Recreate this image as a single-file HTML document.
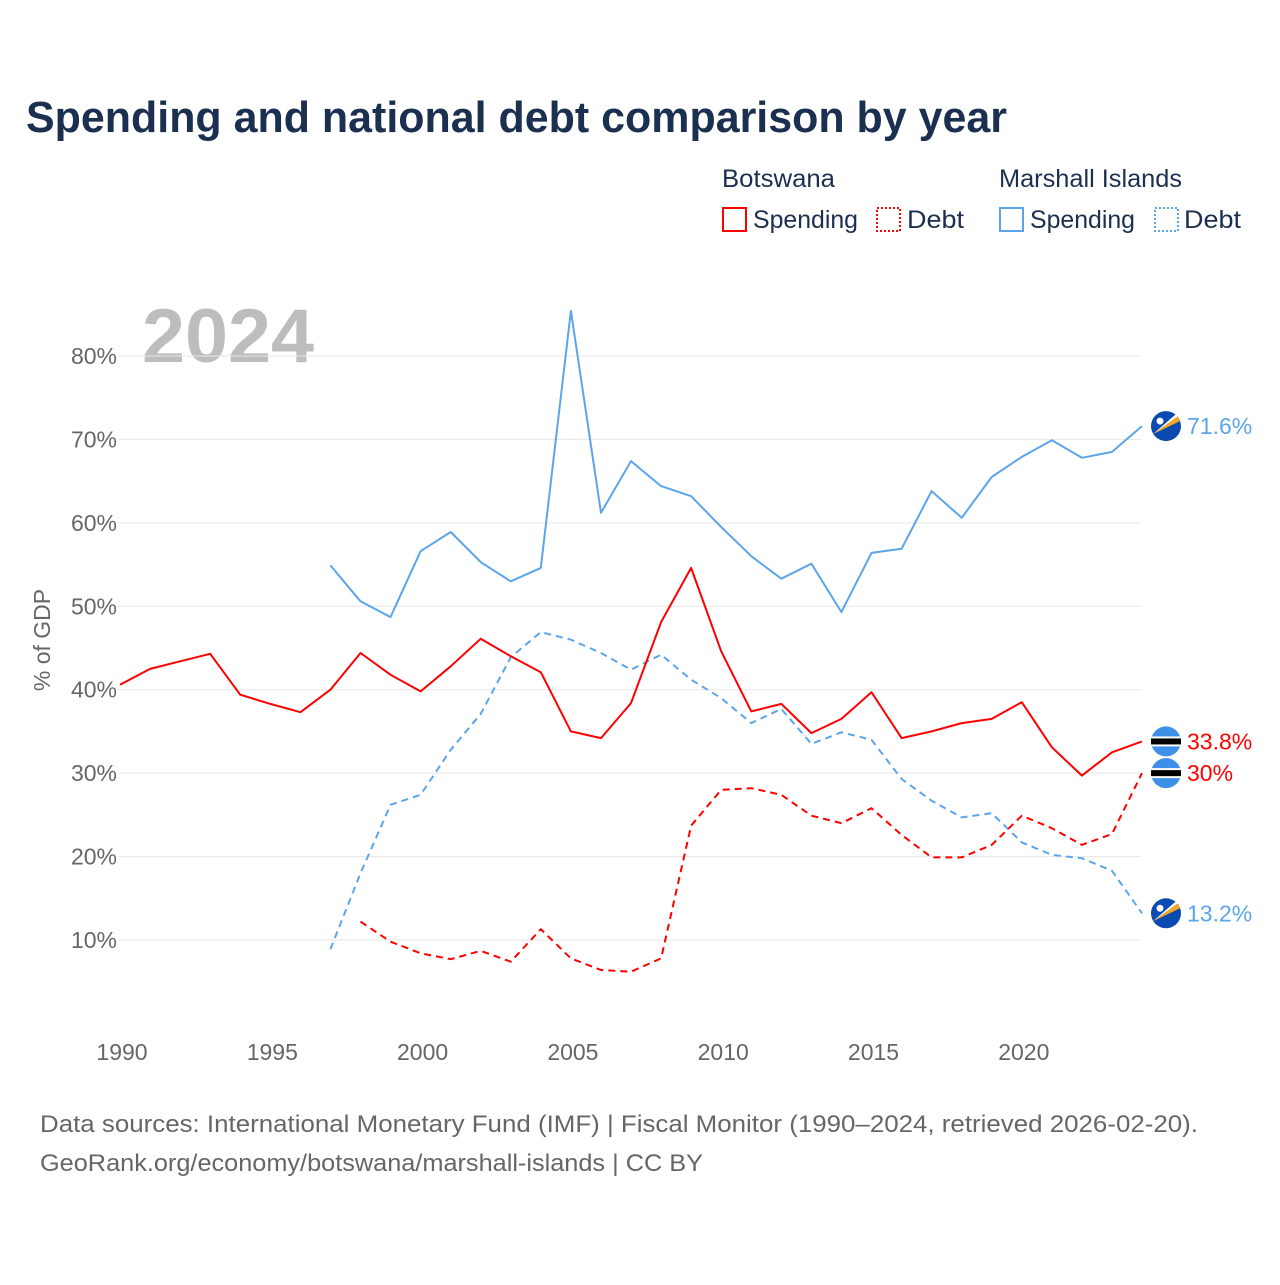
<!DOCTYPE html>
<html><head><meta charset="utf-8"><style>
html,body{margin:0;padding:0;background:#fff;}
svg text{font-family:"Liberation Sans",sans-serif;}
</style></head><body>
<svg id="chart" width="1280" height="1280" viewBox="0 0 1280 1280" xmlns="http://www.w3.org/2000/svg">
<text x="26" y="132" font-size="44" font-weight="bold" fill="#1b2f50" textLength="981" lengthAdjust="spacingAndGlyphs">Spending and national debt comparison by year</text>
<g font-size="25" fill="#1b2f50">
<text x="722" y="187" textLength="113" lengthAdjust="spacingAndGlyphs" fill="#1b2f50">Botswana</text>
<text x="999" y="187" textLength="183" lengthAdjust="spacingAndGlyphs" fill="#1b2f50">Marshall Islands</text>
<g><rect x="723" y="208" width="23" height="23" fill="none" stroke="#f00" stroke-width="2"/><text x="753" y="228" textLength="105" lengthAdjust="spacingAndGlyphs" fill="#1b2f50">Spending</text></g>
<g><rect x="877" y="208" width="23" height="23" fill="none" stroke="#f00" stroke-width="2" stroke-dasharray="2,2"/><text x="907" y="228" textLength="57" lengthAdjust="spacingAndGlyphs" fill="#1b2f50">Debt</text></g>
<g><rect x="1000" y="208" width="23" height="23" fill="none" stroke="#5ca5ea" stroke-width="2"/><text x="1030" y="228" textLength="105" lengthAdjust="spacingAndGlyphs" fill="#1b2f50">Spending</text></g>
<g><rect x="1155" y="208" width="23" height="23" fill="none" stroke="#5ca5ea" stroke-width="2" stroke-dasharray="2,2"/><text x="1184" y="228" textLength="57" lengthAdjust="spacingAndGlyphs" fill="#1b2f50">Debt</text></g>
</g>
<text x="142" y="362" font-size="76" font-weight="bold" fill="#bdbdbd" textLength="172" lengthAdjust="spacingAndGlyphs">2024</text>
<text transform="translate(50,640) rotate(-90)" text-anchor="middle" font-size="23" fill="#666">% of GDP</text>
<g id="grid"></g>
<g id="yticks"></g>
<g id="xticks"></g>
<g id="series"></g>
<g id="endlabels"></g>
<text x="40" y="1132" font-size="24" fill="#666" textLength="1158" lengthAdjust="spacingAndGlyphs">Data sources: International Monetary Fund (IMF) | Fiscal Monitor (1990–2024, retrieved 2026-02-20).</text>
<text x="40" y="1171" font-size="24" fill="#666" textLength="663" lengthAdjust="spacingAndGlyphs">GeoRank.org/economy/botswana/marshall-islands | CC BY</text>
</svg>
<script>
const yTicks=[10,20,30,40,50,60,70,80];
const xTicks=[1990,1995,2000,2005,2010,2015,2020];
const bwSpendStart=1990;
const bwSpend=[40.6,42.5,43.4,44.3,39.4,38.3,37.3,40.0,44.4,41.8,39.8,42.8,46.1,44.0,42.1,35.0,34.2,38.4,48.1,54.6,44.6,37.4,38.3,34.8,36.5,39.7,34.2,35.0,36.0,36.5,38.5,33.1,29.7,32.5,33.8];
const bwDebtStart=1998;
const bwDebt=[12.2,9.8,8.4,7.7,8.7,7.4,11.3,7.8,6.4,6.2,7.8,23.7,28.0,28.2,27.4,24.9,24.0,25.8,22.6,19.9,19.9,21.4,24.9,23.4,21.4,22.7,30.0];
const mhSpendStart=1997;
const mhSpend=[54.9,50.6,48.7,56.6,58.9,55.3,53.0,54.6,85.4,61.2,67.4,64.4,63.2,59.5,56.0,53.3,55.1,49.3,56.4,56.9,63.8,60.6,65.5,67.9,69.9,67.8,68.5,71.6];
const mhDebtStart=1997;
const mhDebt=[8.9,18.0,26.2,27.4,32.8,37.1,43.9,46.9,46.0,44.4,42.4,44.2,41.2,39.0,36.0,37.7,33.5,34.9,34.0,29.3,26.7,24.7,25.2,21.7,20.2,19.8,18.3,13.2];

const NS="http://www.w3.org/2000/svg";
const X=yr=>120+(yr-1990)*30.06;
const Y=v=>940-(v-10)*8.343;
function mk(tag,attrs,parent){const e=document.createElementNS(NS,tag);for(const k in attrs)e.setAttribute(k,attrs[k]);parent.appendChild(e);return e;}
const grid=document.getElementById('grid'),yt=document.getElementById('yticks'),xt=document.getElementById('xticks'),ser=document.getElementById('series'),el=document.getElementById('endlabels');
yTicks.forEach(v=>{
  const l=mk('line',{x1:118,x2:1141,y1:Y(v),y2:Y(v),stroke:'#e6e6e6','stroke-width':1},grid);
  
  
  const t=mk('text',{x:117,y:Y(v)+8,'text-anchor':'end','font-size':23,fill:'#666'},yt);
  t.textContent=v+'%';
  
  
});
xTicks.forEach(yr=>{
  const t=mk('text',{x:X(yr)+2,y:1060,'text-anchor':'middle','font-size':23,fill:'#666'},xt);
  t.textContent=yr;
  
  
});
function line(start,vals,color,dash,name){
  const pts=vals.map((v,i)=>X(start+i).toFixed(1)+','+Y(v).toFixed(1)).join(' ');
  const p=mk('polyline',{points:pts,fill:'none',stroke:color,'stroke-width':2,'stroke-dasharray':dash,'stroke-linejoin':'round'},ser);
  
  
}
line(mhDebtStart,mhDebt,'#5ca5ea','7,5','line-marshall-debt');
line(mhSpendStart,mhSpend,'#5ca5ea','none','line-marshall-spending');
line(bwDebtStart,bwDebt,'#f00','7,5','line-botswana-debt');
line(bwSpendStart,bwSpend,'#f00','none','line-botswana-spending');
function bwFlag(cy,name){
  const g=mk('g',{},el);
  
  
  const cx=1166;
  mk('circle',{cx:cx,cy:cy,r:15,fill:'#3d8fe8'},g);
  mk('rect',{x:cx-15,y:cy-5,width:30,height:10,fill:'#fff'},g);
  mk('rect',{x:cx-15,y:cy-3,width:30,height:6,fill:'#000'},g);
}
function mhFlag(cy,name){
  const g=mk('g',{},el);
  
  
  const cx=1166;
  mk('circle',{cx:cx,cy:cy,r:15,fill:'#0b4ab0'},g);
  mk('polygon',{points:(cx-13)+','+(cy+8)+' '+(cx+12)+','+(cy-10)+' '+(cx+14)+','+(cy-5),fill:'#f5a623'},g);
  mk('polygon',{points:(cx-13)+','+(cy+8)+' '+(cx+10)+','+(cy-12)+' '+(cx+12)+','+(cy-10),fill:'#fff'},g);
  mk('circle',{cx:cx-6,cy:cy-5,r:3.5,fill:'#fff'},g);
}
function lbl(v,txt,color,name){
  const t=mk('text',{x:1187,y:Y(v)+8,'font-size':23,fill:color},el);
  t.textContent=txt;
  
  
}
const mhS=mhSpend[mhSpend.length-1],mhD=mhDebt[mhDebt.length-1],bwS=bwSpend[bwSpend.length-1],bwD=bwDebt[bwDebt.length-1];
mhFlag(Y(mhS),'flag-marshall-spending');lbl(mhS,mhS+'%','#5ca5ea','end-label-marshall-spending');
bwFlag(Y(bwS),'flag-botswana-spending');lbl(bwS,bwS+'%','#f00','end-label-botswana-spending');
bwFlag(Y(bwD),'flag-botswana-debt');lbl(bwD,(+bwD.toFixed(1))+'%','#f00','end-label-botswana-debt');
mhFlag(Y(mhD),'flag-marshall-debt');lbl(mhD,mhD+'%','#5ca5ea','end-label-marshall-debt');
</script>
</body></html>
